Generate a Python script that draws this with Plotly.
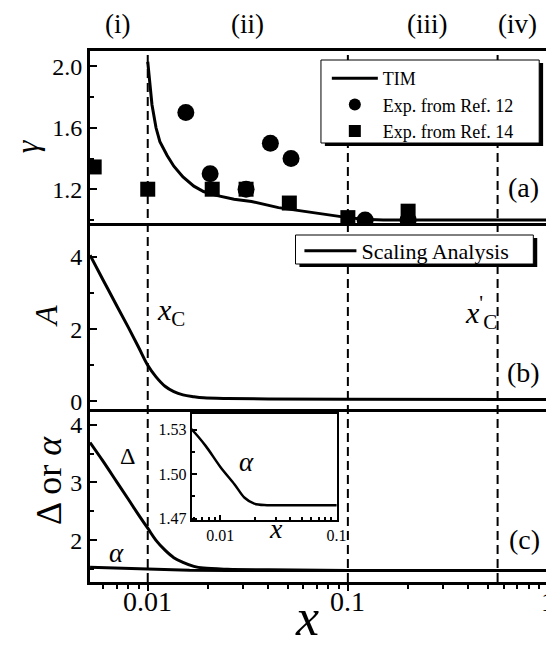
import math
import plotly.graph_objects as go

FONT = "Liberation Serif, Times New Roman, Times, Nimbus Roman, DejaVu Serif, serif"

# ---------------- data ----------------
# panel (a): gamma
tim_x = [0.0100, 0.0102, 0.0105, 0.0110, 0.0115, 0.0125, 0.0135, 0.0150, 0.0170, 0.0190,
         0.0220, 0.0270, 0.0330, 0.0450, 0.0600, 0.0800, 0.1000, 0.1200, 0.1500, 1.0]
tim_y = [2.03, 1.90, 1.75, 1.60, 1.51, 1.42, 1.35, 1.28, 1.22, 1.185,
         1.16, 1.135, 1.12, 1.08, 1.055, 1.03, 1.015, 1.005, 1.0, 1.0]
ref12_x = [0.0155, 0.0205, 0.031, 0.041, 0.052, 0.122, 0.20]
ref12_y = [1.70, 1.30, 1.20, 1.50, 1.40, 1.00, 1.00]
ref14_x = [0.0054, 0.0100, 0.021, 0.031, 0.051, 0.100, 0.20]
ref14_y = [1.345, 1.20, 1.20, 1.20, 1.11, 1.015, 1.057]

# panel (b): A (scaling analysis)
a_x = [0.00515, 0.006, 0.007, 0.008, 0.009, 0.010, 0.011, 0.0122, 0.0135, 0.015,
       0.017, 0.019, 0.025, 0.040, 0.100, 1.0]
a_y = [4.05, 3.35, 2.65, 2.05, 1.50, 1.00, 0.68, 0.42, 0.27, 0.18,
       0.13, 0.10, 0.08, 0.07, 0.06, 0.05]

# panel (c): Delta and alpha
d_x = [0.00515, 0.006, 0.007, 0.008, 0.009, 0.010, 0.011, 0.0122, 0.0135, 0.015,
       0.017, 0.019, 0.025, 0.040, 0.100, 1.0]
d_y = [3.69, 3.36, 3.01, 2.71, 2.44, 2.21, 2.00, 1.83, 1.70, 1.62,
       1.55, 1.52, 1.50, 1.49, 1.48, 1.48]
al_x = [0.00515, 0.0057, 0.0075, 0.0100, 0.0133, 0.0162, 0.0196, 0.0253, 0.040, 0.100, 1.0]
al_y = [1.533, 1.530, 1.519, 1.505, 1.493, 1.484, 1.480, 1.479, 1.479, 1.479, 1.479]

main_ticks = [0.01, 0.1, 1]
main_ticktext = ["0.01", "0.1", "1"]
minor_vals = [0.006, 0.007, 0.008, 0.009, 0.02, 0.03, 0.04, 0.05, 0.06, 0.07, 0.08, 0.09,
              0.2, 0.3, 0.4, 0.5, 0.6, 0.7, 0.8, 0.9]
inset_minor = [0.006, 0.007, 0.008, 0.009, 0.02, 0.03, 0.04, 0.05, 0.06, 0.07, 0.08, 0.09]
vlines_x = [0.01, 0.1, 0.56]

# ---------------- geometry helpers ----------------
W, H = 554, 645
L, R, T, B = 82, 4, 43, 71
PW, PH = W - L - R, H - T - B


def px(xp):
    return (xp - L) / PW


def py(yp):
    return (H - B - yp) / PH


AB, BC = 215, 401
XR = [-2.2885, 0]

fig = go.Figure()

# panel (a)
fig.add_trace(go.Scatter(x=tim_x, y=tim_y, mode="lines", line=dict(color="black", width=3),
                         xaxis="x", yaxis="y", showlegend=False))
fig.add_trace(go.Scatter(x=ref12_x, y=ref12_y, mode="markers",
                         marker=dict(symbol="circle", size=17, color="black"),
                         xaxis="x", yaxis="y", showlegend=False))
fig.add_trace(go.Scatter(x=ref14_x, y=ref14_y, mode="markers",
                         marker=dict(symbol="square", size=15, color="black"),
                         xaxis="x", yaxis="y", showlegend=False))
# legend proxies for (a)
fig.add_trace(go.Scatter(x=[None], y=[None], mode="lines", line=dict(color="black", width=3),
                         name="TIM", xaxis="x", yaxis="y", legend="legend"))
fig.add_trace(go.Scatter(x=[None], y=[None], mode="markers",
                         marker=dict(symbol="circle", size=12, color="black"),
                         name="Exp. from Ref. 12", xaxis="x", yaxis="y", legend="legend"))
fig.add_trace(go.Scatter(x=[None], y=[None], mode="markers",
                         marker=dict(symbol="square", size=12, color="black"),
                         name="Exp. from Ref. 14", xaxis="x", yaxis="y", legend="legend"))

# panel (b)
fig.add_trace(go.Scatter(x=a_x, y=a_y, mode="lines", line=dict(color="black", width=3, shape="spline"),
                         name="Scaling Analysis", xaxis="x2", yaxis="y2", legend="legend2"))

# panel (c)
fig.add_trace(go.Scatter(x=d_x, y=d_y, mode="lines", line=dict(color="black", width=3, shape="spline"),
                         xaxis="x3", yaxis="y3", showlegend=False))
fig.add_trace(go.Scatter(x=al_x, y=al_y, mode="lines", line=dict(color="black", width=3),
                         xaxis="x3", yaxis="y3", showlegend=False))
# inset
fig.add_trace(go.Scatter(x=al_x, y=al_y, mode="lines", line=dict(color="black", width=2.5, shape="spline"),
                         xaxis="x4", yaxis="y4", showlegend=False))

xcommon = dict(type="log", range=XR, showline=True, linecolor="black", linewidth=3,
               showgrid=False, zeroline=False)
yframe = dict(showline=True, linecolor="black", linewidth=3, mirror=True,
              showgrid=False, zeroline=False)
tickfont_y = dict(family=FONT, size=24, color="black")

fig.update_layout(
    width=W, height=H,
    margin=dict(l=L, r=R, t=T, b=B),
    paper_bgcolor="white", plot_bgcolor="white",
    font=dict(family=FONT, color="black"),
    xaxis=dict(xcommon, domain=[0, 1], anchor="y", mirror=True, showticklabels=False, ticks=""),
    xaxis2=dict(xcommon, domain=[0, 1], anchor="y2", mirror=False, showticklabels=False, ticks=""),
    xaxis3=dict(xcommon, domain=[0, 1], anchor="y3", mirror=False,
                tickmode="array", tickvals=main_ticks, showticklabels=False,
                ticks="outside", ticklen=6, tickwidth=2, tickcolor="black",
                minor=dict(tickmode="array", tickvals=minor_vals, ticks="outside",
                           ticklen=4, tickwidth=2, tickcolor="black")),
    yaxis=dict(yframe, domain=[py(AB), 1], anchor="x", range=[0.98, 2.10],
               tickmode="array", tickvals=[1.2, 1.6, 2.0], ticktext=["1.2", "1.6", "2.0"],
               ticks="inside", ticklen=7, tickwidth=2, tickcolor="black", tickfont=tickfont_y,
               minor=dict(tickmode="array", tickvals=[1.0, 1.4, 1.8], ticks="inside",
                          ticklen=4, tickwidth=2, tickcolor="black")),
    yaxis2=dict(yframe, domain=[py(BC), py(AB)], anchor="x2", range=[-0.21, 4.94],
                tickmode="array", tickvals=[0, 2, 4], ticktext=["0", "2", "4"],
                ticks="inside", ticklen=7, tickwidth=2, tickcolor="black", tickfont=tickfont_y,
                minor=dict(tickmode="array", tickvals=[1, 3], ticks="inside",
                           ticklen=4, tickwidth=2, tickcolor="black")),
    yaxis3=dict(yframe, domain=[0, py(BC)], anchor="x3", range=[1.28, 4.27],
                tickmode="array", tickvals=[2, 3, 4], ticktext=["2", "3", "4"],
                ticks="inside", ticklen=7, tickwidth=2, tickcolor="black", tickfont=tickfont_y,
                minor=dict(tickmode="array", tickvals=[1.5, 2.5, 3.5], ticks="inside",
                           ticklen=4, tickwidth=2, tickcolor="black")),
    xaxis4=dict(showline=True, linecolor="black", linewidth=2, mirror=True, showgrid=False,
                zeroline=False, type="log", range=[-2.244, -1],
                domain=[px(186), px(334)], anchor="y4",
                tickmode="array", tickvals=[0.01, 0.1], ticktext=["0.01", "0.1"],
                ticks="inside", ticklen=5, tickwidth=1.5, tickcolor="black",
                tickfont=dict(family=FONT, size=16, color="black"),
                minor=dict(tickmode="array", tickvals=inset_minor, ticks="inside",
                           ticklen=3, tickwidth=1.5, tickcolor="black")),
    yaxis4=dict(showline=True, linecolor="black", linewidth=2, mirror=True, showgrid=False,
                zeroline=False, range=[1.469, 1.5405],
                domain=[py(512), py(406)], anchor="x4",
                tickmode="array", tickvals=[1.47, 1.50, 1.53], ticktext=["1.47", "1.50", "1.53"],
                ticks="inside", ticklen=5, tickwidth=1.5, tickcolor="black",
                tickfont=dict(family=FONT, size=16, color="black"),
                minor=dict(tickmode="array", tickvals=[1.485, 1.515], ticks="inside",
                           ticklen=3, tickwidth=1.5, tickcolor="black")),
    legend=dict(x=px(324), y=py(52), xanchor="left", yanchor="top",
                bgcolor="rgba(0,0,0,0)", borderwidth=0, itemwidth=46,
                font=dict(family=FONT, size=18, color="black"), tracegroupgap=0),
    legend2=dict(x=px(296), y=py(222), xanchor="left", yanchor="top",
                 bgcolor="rgba(0,0,0,0)", borderwidth=0, itemwidth=52,
                 font=dict(family=FONT, size=22, color="black")),
)

shapes = []
for xv in vlines_x:
    shapes.append(dict(type="line", xref="x3", yref="paper", x0=xv, x1=xv, y0=0, y1=1,
                       line=dict(color="black", width=2, dash="9px,5px"), layer="below"))


def legend_box(x0, y0, x1, y1):
    out = [dict(type="rect", xref="paper", yref="paper",
                x0=px(x0 + 4), x1=px(x1 + 4), y0=py(y1 + 3), y1=py(y0 + 3),
                fillcolor="black", line=dict(width=0), layer="above"),
           dict(type="rect", xref="paper", yref="paper",
                x0=px(x0), x1=px(x1), y0=py(y1), y1=py(y0),
                fillcolor="white", line=dict(color="black", width=1), layer="above")]
    return out


shapes += legend_box(318, 52, 541, 135)
shapes += legend_box(292, 227, 535, 256)
fig.update_layout(shapes=shapes)


def ann(text, xp, yp, size, angle=0):
    return dict(text=text, x=px(xp), y=py(yp), xref="paper", yref="paper",
                showarrow=False, textangle=angle, xanchor="center", yanchor="middle",
                font=dict(family=FONT, size=size, color="black"))


anns = [
    ann("(i)", 110, 16, 27), ann("(ii)", 243, 16, 27), ann("(iii)", 427, 16, 27), ann("(iv)", 519, 16, 27),
    ann("(a)", 525, 179, 28), ann("(b)", 525, 364, 28), ann("(c)", 526, 531, 28),
    ann("<i>x</i><sub>C</sub>", 165, 304, 30),
    ann("<i>x</i><sup>'</sup><sub>C</sub>", 482, 304, 30),
    ann("Δ", 120, 448, 24), ann("<i>α</i>", 109, 545, 27),
    ann("<i>α</i>", 242, 454, 27),
    ann("<i>x</i>", 272, 520, 28),
    ann("<i>γ</i>", 18, 138, 32, -90),
    ann("<i>A</i>", 37, 308, 32, -90),
    ann("Δ or <i>α</i>", 40, 472, 36, -90),
    ann("<i>x</i>", 304, 609, 52),
]
# main x tick labels (text placed at the tick positions of the log axis)
for tv, tt in zip(main_ticks, main_ticktext):
    anns.append(dict(text=tt, x=math.log10(tv), y=py(593), xref="x3", yref="paper",
                     showarrow=False, xanchor="center", yanchor="middle",
                     font=dict(family=FONT, size=28, color="black")))
fig.update_layout(annotations=anns)

fig.write_html("out.html")
